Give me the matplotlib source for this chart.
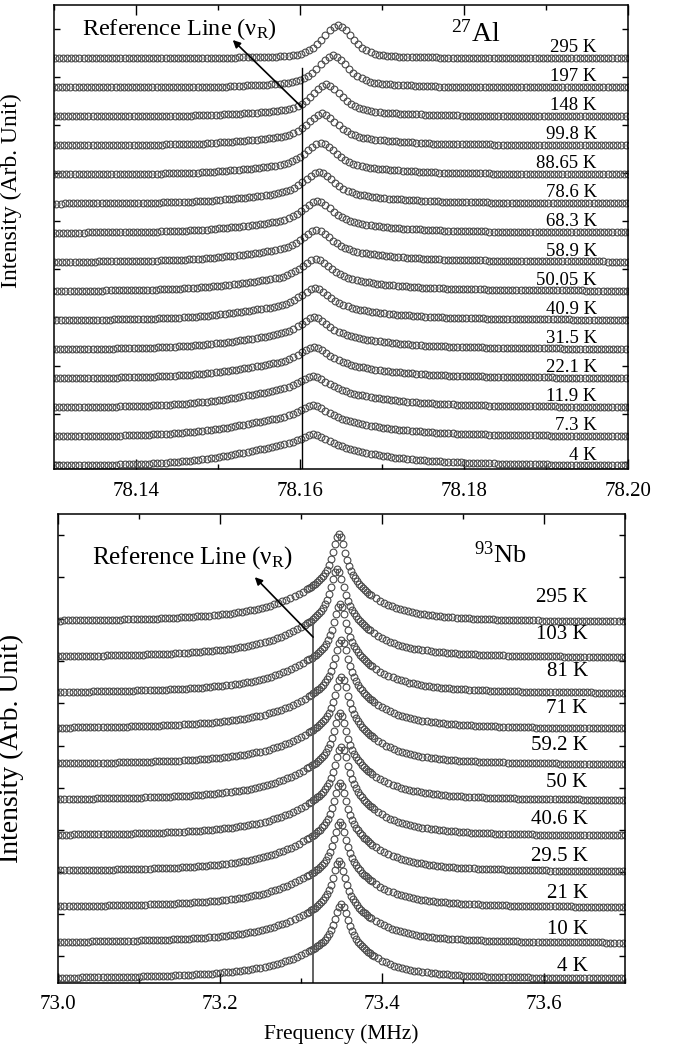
import numpy as np
import matplotlib
matplotlib.use("Agg")
import matplotlib.pyplot as plt
from matplotlib.ticker import MultipleLocator, FormatStrFormatter

# ------------------------------------------------------------------
# 27Al spectra (top panel), listed top -> bottom
# ------------------------------------------------------------------
al_labels = ['295 K', '197 K', '148 K', '99.8 K', '88.65 K', '78.6 K', '68.3 K',
             '58.9 K', '50.05 K', '40.9 K', '31.5 K', '22.1 K', '11.9 K', '7.3 K', '4 K']
al_centers = [78.1646, 78.1640, 78.1632, 78.1627, 78.1625, 78.1623, 78.1621,
              78.1620, 78.1619, 78.1618, 78.1617, 78.1617, 78.1616, 78.1616, 78.1616]
al_heights = [1.13, 1.10, 1.10, 1.10, 1.10, 1.10, 1.10,
              1.10, 1.10, 1.10, 1.10, 1.10, 1.10, 1.10, 1.10]
# share of the broad line in each spectrum (estimated line broadening on cooling)
al_broad_share = [0.0, 0.1, 0.2, 0.35, 0.4, 0.45, 0.5, 0.55, 0.6, 0.65, 0.7, 0.75,
                  0.85, 0.9, 1.0]
al_step = 0.0005  # MHz between points
# narrow line, half profile from the peak outwards (symmetric)
al_narrow_half = [1.000, 0.956, 0.844, 0.699, 0.554, 0.425, 0.320, 0.239, 0.180, 0.138,
                  0.108, 0.088, 0.073, 0.062, 0.054, 0.048, 0.042, 0.038, 0.034, 0.031,
                  0.028, 0.025, 0.023, 0.021, 0.020, 0.018]
# broad line, low-frequency side (peak outwards)
al_broad_left = [1.000, 0.975, 0.920, 0.860, 0.800, 0.750, 0.710, 0.675, 0.645, 0.620,
                 0.595, 0.570, 0.545, 0.520, 0.495, 0.470, 0.445, 0.420, 0.395, 0.370,
                 0.345, 0.320, 0.300, 0.280, 0.260, 0.240, 0.225, 0.210, 0.195, 0.180,
                 0.168, 0.156, 0.145, 0.135, 0.125, 0.116, 0.108, 0.100, 0.093, 0.086,
                 0.080, 0.075, 0.070, 0.065, 0.061, 0.057, 0.053, 0.050, 0.047, 0.044,
                 0.041, 0.039, 0.037, 0.035, 0.033, 0.031, 0.029, 0.028, 0.026, 0.025,
                 0.024, 0.023, 0.022, 0.021, 0.020, 0.019, 0.018, 0.017, 0.016, 0.016,
                 0.015, 0.014, 0.014, 0.013, 0.013, 0.012, 0.012, 0.011, 0.011, 0.010,
                 0.010]
# broad line, high-frequency side (peak outwards)
al_broad_right = [1.000, 0.974, 0.912, 0.838, 0.769, 0.708, 0.657, 0.612, 0.571, 0.535,
                  0.501, 0.470, 0.441, 0.413, 0.388, 0.364, 0.342, 0.321, 0.302, 0.284,
                  0.267, 0.252, 0.237, 0.224, 0.211, 0.200, 0.189, 0.179, 0.170, 0.161,
                  0.153, 0.145, 0.138, 0.131, 0.125, 0.119, 0.114, 0.109, 0.104, 0.100,
                  0.096, 0.092, 0.088, 0.084, 0.081, 0.078, 0.075, 0.072, 0.070, 0.067,
                  0.065, 0.062, 0.060, 0.058, 0.056, 0.054, 0.053, 0.051, 0.049, 0.048,
                  0.046, 0.045, 0.044, 0.042, 0.041, 0.040, 0.038, 0.037, 0.036, 0.035,
                  0.034, 0.033, 0.032, 0.031, 0.030, 0.030, 0.029, 0.028, 0.027, 0.027,
                  0.026]

# ------------------------------------------------------------------
# 93Nb spectra (bottom panel), listed top -> bottom
# ------------------------------------------------------------------
nb_labels = ['295 K', '103 K', '81 K', '71 K', '59.2 K', '50 K', '40.6 K',
             '29.5 K', '21 K', '10 K', '4 K']
nb_centers = [73.347, 73.345, 73.348, 73.350, 73.350, 73.348, 73.350,
              73.348, 73.348, 73.347, 73.350]
nb_heights = [2.46, 2.50, 2.50, 2.50, 2.45, 2.45, 2.50, 2.50, 2.40, 2.30, 2.10]
nb_core_step = 0.0025   # MHz, points within 0.04 MHz of the peak
nb_wing_step = 0.005    # MHz, points further out
nb_core_left = [0.967, 0.888, 0.797, 0.716, 0.651, 0.599, 0.559, 0.526, 0.499, 0.475,
                0.454, 0.435, 0.418, 0.402, 0.386, 0.372]
nb_core_right = [0.967, 0.886, 0.792, 0.708, 0.638, 0.582, 0.536, 0.498, 0.465, 0.436,
                 0.410, 0.386, 0.364, 0.344, 0.325, 0.307]
nb_wing_left = [0.344, 0.319,
                0.296, 0.274, 0.254, 0.236, 0.219, 0.203, 0.189, 0.176, 0.164, 0.153,
                0.143, 0.134, 0.126, 0.118, 0.111, 0.104, 0.098, 0.093, 0.088, 0.083,
                0.079, 0.074, 0.071, 0.067, 0.064, 0.061, 0.058, 0.055, 0.053, 0.050,
                0.048, 0.046, 0.044, 0.042, 0.041, 0.039, 0.038, 0.036, 0.035, 0.034,
                0.032, 0.031, 0.030, 0.029, 0.028, 0.027, 0.026, 0.025, 0.024, 0.024,
                0.023, 0.022, 0.021, 0.021, 0.020, 0.020, 0.019, 0.019, 0.018, 0.018,
                0.017, 0.017, 0.016, 0.016]
nb_wing_right = [0.275, 0.246,
                 0.221, 0.199, 0.180, 0.163, 0.148, 0.135, 0.123, 0.113, 0.104, 0.095,
                 0.088, 0.082, 0.076, 0.070, 0.066, 0.061, 0.057, 0.054, 0.050, 0.047,
                 0.045, 0.042, 0.040, 0.038, 0.036, 0.034, 0.032, 0.031, 0.029, 0.028,
                 0.027, 0.025, 0.024, 0.023, 0.022, 0.021, 0.020, 0.019, 0.019, 0.018,
                 0.017, 0.016, 0.016, 0.015, 0.015, 0.014, 0.014, 0.013, 0.013, 0.012,
                 0.012, 0.012, 0.011, 0.011, 0.011, 0.010, 0.010, 0.010, 0.009, 0.009,
                 0.009, 0.009, 0.008, 0.008]

# ------------------------------------------------------------------
plt.rcParams['font.family'] = ['Liberation Serif', 'DejaVu Serif']
plt.rcParams['mathtext.fontset'] = 'custom'
plt.rcParams['mathtext.rm'] = 'Liberation Serif'
plt.rcParams['mathtext.it'] = 'Liberation Serif:italic'
plt.rcParams['mathtext.bf'] = 'Liberation Serif:bold'

fig = plt.figure(figsize=(6.75, 10.53), dpi=100)
ax1 = fig.add_axes([0.0800, 0.5546, 0.8504, 0.4406])
ax2 = fig.add_axes([0.0859, 0.0665, 0.8400, 0.4454])

mk = dict(ls='none', marker='o', mfc='none', mec='#4a4a4a', ms=4.9, mew=0.8)


def style_axes(ax):
    for s in ax.spines.values():
        s.set_linewidth(1.1)
    ax.tick_params(which='both', direction='in', top=True, right=True,
                   width=1.0, labelsize=15, pad=9)
    ax.tick_params(which='major', length=7)
    ax.tick_params(which='minor', length=3.5)
    ax.tick_params(axis='y', which='both', labelleft=False, length=4)


# ---------------- top panel ----------------
n_al = len(al_labels)
npad = len(al_broad_right)
narrow_full = al_narrow_half + [0.0] * (npad - len(al_narrow_half))
prof_n = np.array(narrow_full[:0:-1] + narrow_full)
prof_b = np.array(al_broad_left[:0:-1] + al_broad_right)
k_al = np.arange(-(npad - 1), npad)
for j, (lab, c, h, w) in enumerate(zip(al_labels, al_centers, al_heights, al_broad_share)):
    off = n_al - 1 - j
    prof = (1 - w) * prof_n + w * prof_b
    ax1.plot(c + k_al * al_step, off + h * prof, **mk)
    ax1.text(78.1962, off + 0.38, lab, ha='right', va='center', fontsize=13.5)

ax1.set_xlim(78.13, 78.20)
ax1.set_ylim(-0.1, 15.82)
ax1.xaxis.set_major_locator(MultipleLocator(0.02))
ax1.xaxis.set_minor_locator(MultipleLocator(0.01))
ax1.xaxis.set_major_formatter(FormatStrFormatter('%.2f'))
ax1.set_yticks(np.arange(15.0, -0.1, -1.65))
style_axes(ax1)
ax1.plot([78.1602, 78.1602], [-0.1, 13.66], color='k', lw=1.0)
ax1.annotate('', xy=(78.1518, 14.62), xytext=(78.1602, 12.32),
             arrowprops=dict(arrowstyle='-|>', color='k', lw=1.2, mutation_scale=11,
                             shrinkA=0, shrinkB=0))
ax1.text(78.1334, 14.79, 'Reference Line (ν$_{\\mathrm{R}}$)', fontsize=17.5,
         ha='left', va='baseline')
ax1.text(78.1784, 14.55, '$^{27}$Al', fontsize=20, ha='left', va='baseline')
ax1.set_ylabel('Intensity (Arb. Unit)', fontsize=17)
ax1.yaxis.set_label_coords(-0.056, 0.60)

# ---------------- bottom panel ----------------
n_nb = len(nb_labels)
core_d = np.arange(1, len(nb_core_left) + 1) * nb_core_step
wing_d = nb_core_step * len(nb_core_left) + np.arange(1, len(nb_wing_left) + 1) * nb_wing_step
d_nb = np.concatenate([-wing_d[::-1], -core_d[::-1], [0.0], core_d, wing_d])
prof_nb = np.array(nb_wing_left[::-1] + nb_core_left[::-1] + [1.0] + nb_core_right + nb_wing_right)
for j, (lab, c, h) in enumerate(zip(nb_labels, nb_centers, nb_heights)):
    off = n_nb - 1 - j
    ax2.plot(c + d_nb, off + h * prof_nb, **mk)
    ax2.text(73.654, 0.34 + off * 1.035, lab, ha='right', va='center', fontsize=15)

ax2.set_xlim(73.0, 73.7)
ax2.set_ylim(-0.11, 13.03)
ax2.xaxis.set_major_locator(MultipleLocator(0.2))
ax2.xaxis.set_minor_locator(MultipleLocator(0.1))
ax2.xaxis.set_major_formatter(FormatStrFormatter('%.1f'))
ax2.set_yticks(np.arange(12.44, -0.1, -1.18))
style_axes(ax2)
ax2.plot([73.315, 73.315], [-0.11, 9.97], color='#555555', lw=1.3)
ax2.annotate('', xy=(73.243, 11.26), xytext=(73.315, 9.58),
             arrowprops=dict(arrowstyle='-|>', color='k', lw=1.2, mutation_scale=11,
                             shrinkA=0, shrinkB=0))
ax2.text(73.042, 11.65, 'Reference Line (ν$_{\\mathrm{R}}$)', fontsize=18,
         ha='left', va='baseline')
ax2.text(73.5136, 11.65, '$^{93}$Nb', fontsize=19, ha='left', va='baseline')
ax2.set_ylabel('Intensity (Arb. Unit)', fontsize=20)
ax2.yaxis.set_label_coords(-0.06, 0.5)
ax2.set_xlabel('Frequency (MHz)', fontsize=15.5, labelpad=7)

fig.savefig('out.png', dpi=100)
